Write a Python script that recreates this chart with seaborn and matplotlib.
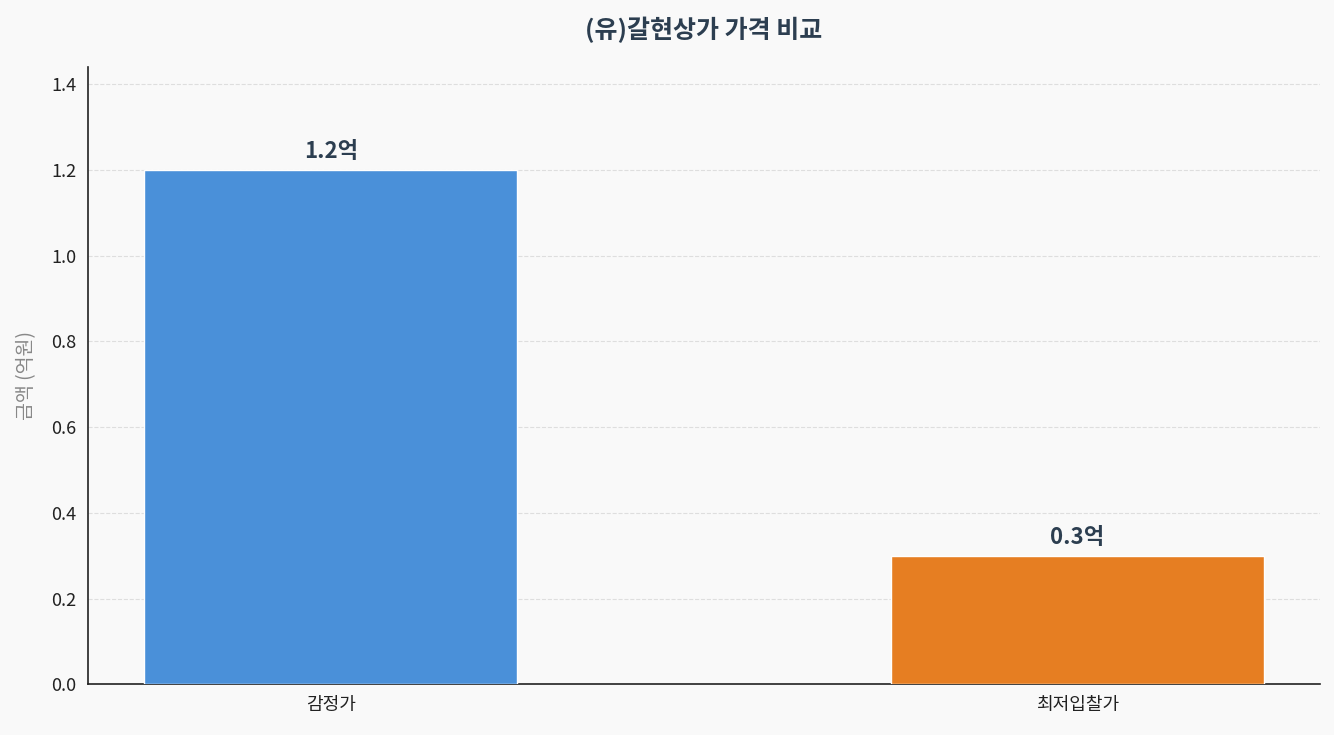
import matplotlib
matplotlib.use("Agg")
import matplotlib.pyplot as plt
import seaborn as sns
import pandas as pd

# 데이터
categories = ["감정가", "최저입찰가"]
values = [1.2, 0.3]
labels = ["1.2억", "0.3억"]
colors = ["#4a90d9", "#e67e22"]

df = pd.DataFrame({"구분": categories, "금액": values})

sns.set_style("white")
plt.rcParams['font.family'] = ['Noto Sans CJK KR', 'DejaVu Sans']

fig, ax = plt.subplots(figsize=(13.34, 7.35), dpi=100)
fig.patch.set_facecolor("#f9f9f9")
ax.set_facecolor("#f9f9f9")

sns.barplot(data=df, x="구분", y="금액", hue="구분", palette=colors, width=0.5,
            saturation=1, edgecolor="white", linewidth=1, legend=False, ax=ax, zorder=3)

for i, (v, t) in enumerate(zip(values, labels)):
    ax.text(i, v + 0.015, t, ha="center", va="bottom", fontsize=16,
            fontweight="bold", color="#2c3e50")

ax.set_xlim(-0.325, 1.325)
ax.set_ylim(0, max(values) * 1.2)
ax.set_title("(유)갈현상가 가격 비교", fontsize=18, fontweight="bold", color="#2c3e50", pad=21)
ax.set_xlabel("")
ax.set_ylabel("금액 (억원)", fontsize=14, color="#888888", labelpad=10)
ax.tick_params(axis="both", labelsize=13, length=5, width=1.2, colors="#222222")
ax.yaxis.grid(True, linestyle="--", color="#d8d8d8", alpha=0.8, zorder=0)
ax.set_axisbelow(True)
sns.despine(ax=ax)
for s in ["left", "bottom"]:
    ax.spines[s].set_color("#222222")
    ax.spines[s].set_linewidth(1.2)

fig.subplots_adjust(left=0.066, right=0.9895, top=0.909, bottom=0.069)
plt.savefig("out.png", dpi=100, facecolor=fig.get_facecolor())
